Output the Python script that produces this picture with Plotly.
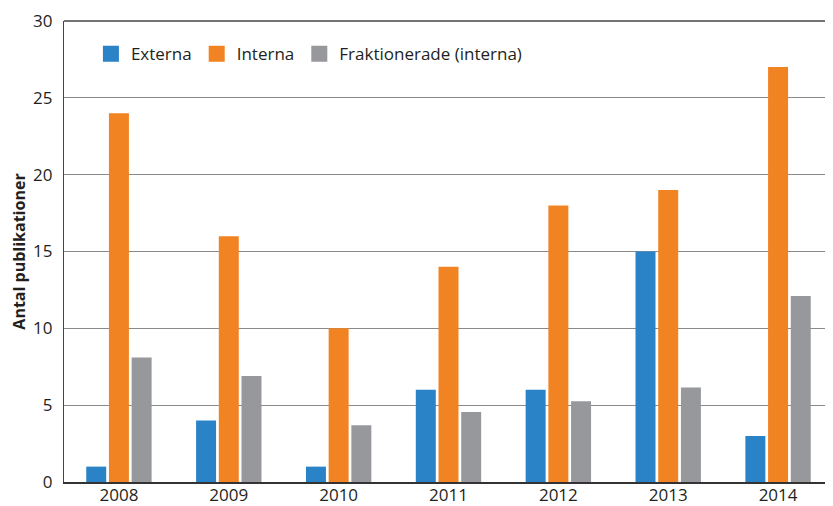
import plotly.graph_objects as go

years = ["2008", "2009", "2010", "2011", "2012", "2013", "2014"]
externa = [1, 4, 1, 6, 6, 15, 3]
interna = [24, 16, 10, 14, 18, 19, 27]
fraktionerade = [8.1, 6.9, 3.7, 4.55, 5.25, 6.15, 12.1]
series_names = ["Externa", "Interna", "Fraktionerade (interna)"]
colors = ["#2A82C7", "#F28322", "#97989C"]
y_ticks = [0, 5, 10, 15, 20, 25, 30]

FONT = "Open Sans"
TEXT = "#231F20"

fig = go.Figure()
for name, vals, col in zip(series_names, [externa, interna, fraktionerade], colors):
    fig.add_trace(go.Bar(x=years, y=vals, name=name, marker=dict(color=col, line=dict(width=0)),
                         showlegend=False))
for name, col in zip(series_names, colors):
    fig.add_trace(go.Scatter(x=[None], y=[None], mode="markers", name=name,
                             marker=dict(symbol="square", size=16, color=col)))

fig.update_layout(
    width=825, height=498,
    margin=dict(l=56, r=0, t=13, b=24, autoexpand=False),
    paper_bgcolor="white", plot_bgcolor="white",
    barmode="group", bargap=0.38, bargroupgap=0.12,
    font=dict(family=FONT, size=17, color=TEXT),
    legend=dict(orientation="h", x=0.035, y=0.928, xanchor="left", yanchor="middle",
                font=dict(size=17, color=TEXT), itemsizing="trace",
                bgcolor="rgba(0,0,0,0)"),
    xaxis=dict(showgrid=False, showline=True, linecolor="#333333", linewidth=1.5,
               ticks="", tickfont=dict(size=17), ticklabelstandoff=-3, fixedrange=True),
    yaxis=dict(range=[0, 30], tickvals=y_ticks, showgrid=True, gridcolor="#8A8A8A",
               gridwidth=1.4, showline=True, linecolor="#444444", linewidth=1.4,
               zeroline=False, ticks="", ticklabelstandoff=7, tickfont=dict(size=17),
               title=dict(text="<b>Antal publikationer</b>", font=dict(size=16), standoff=11)),
)
fig.add_shape(type="line", xref="paper", yref="paper", x0=0, x1=1, y0=1, y1=1,
              line=dict(color="#444444", width=1.5))
fig.write_html("out.html")
